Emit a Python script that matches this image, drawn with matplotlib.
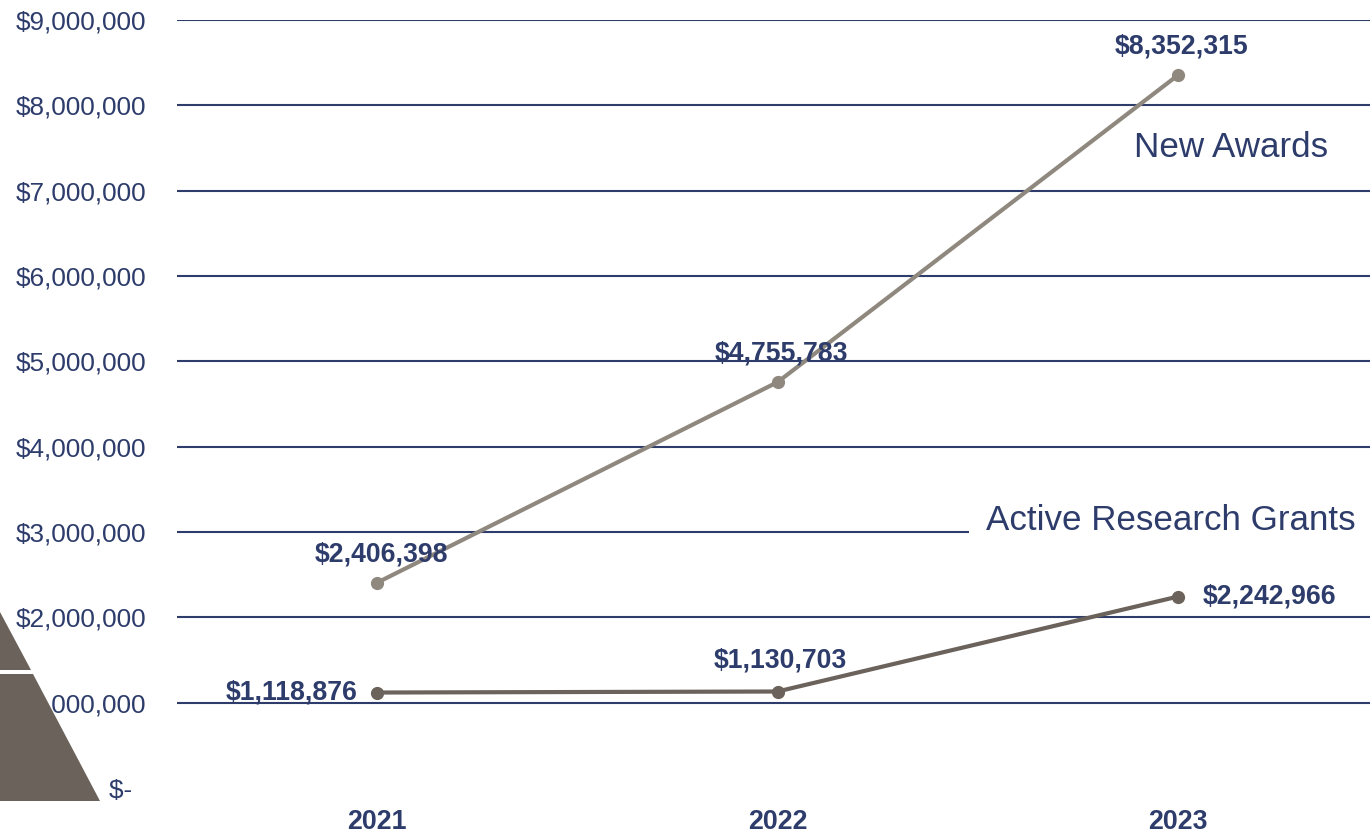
import matplotlib
matplotlib.use('Agg')
import matplotlib.pyplot as plt
from matplotlib.patches import Polygon
from matplotlib.ticker import FuncFormatter

plt.rcParams['font.family'] = ['Liberation Sans', 'DejaVu Sans']

# data
years = ['2021', '2022', '2023']
new_awards = [2406398, 4755783, 8352315]
active_grants = [1118876, 1130703, 2242966]
y_ticks = [0, 1000000, 2000000, 3000000, 4000000, 5000000, 6000000, 7000000, 8000000, 9000000]

navy = '#2d3c6b'
light_brown = '#8f887e'
dark_brown = '#6a625b'

W, H = 1370, 834
fig = plt.figure(figsize=(W / 100, H / 100), dpi=100)
ax = fig.add_axes([177 / W, 46 / H, 1201 / W, 768 / H])

x = list(range(len(years)))
ax.plot(x, new_awards, color=light_brown, lw=3, marker='o', ms=8.5, zorder=3)
ax.plot(x, active_grants, color=dark_brown, lw=3, marker='o', ms=8.5, zorder=3)

ax.set_xlim(-0.5, 2.5)
ax.set_ylim(0, 9000000)
ax.set_yticks(y_ticks)


def money(v, pos=None):
    if v == 0:
        return '$-  '
    return '${:,.0f}'.format(v)


ax.yaxis.set_major_formatter(FuncFormatter(money))
ax.set_xticks(x)
ax.set_xticklabels(years, fontsize=19.3, fontweight='bold', color=navy)
ax.tick_params(axis='y', length=0, pad=22, labelsize=18.8, labelcolor=navy)
ax.tick_params(axis='x', length=0, pad=15)

for s in ax.spines.values():
    s.set_visible(False)
for t in y_ticks[1:]:
    ax.axhline(t, color=navy, lw=1.5, zorder=1)

lbl = dict(fontsize=19.2, fontweight='bold', color=navy, zorder=5)
# labels above points
for i in range(3):
    ax.annotate(money(new_awards[i]), (x[i], new_awards[i]), xytext=(3, 20.5),
                textcoords='offset points', ha='center', va='center', **lbl)
ax.annotate(money(active_grants[0]), (x[0], active_grants[0]), xytext=(-14, 0),
            textcoords='offset points', ha='right', va='center', **lbl)
ax.annotate(money(active_grants[1]), (x[1], active_grants[1]), xytext=(2, 22),
            textcoords='offset points', ha='center', va='center', **lbl)
ax.annotate(money(active_grants[2]), (x[2], active_grants[2]), xytext=(18, 0),
            textcoords='offset points', ha='left', va='center', **lbl)

# series names
ax.text(2.133, 7510000, 'New Awards', fontsize=25.2, color=navy, ha='center', va='center', zorder=4)
ax.text(1.983, 3140000, 'Active Research Grants', fontsize=25.2, color=navy, ha='center', va='center',
        zorder=4, bbox=dict(boxstyle='square,pad=0.5', fc='white', ec='none'))

# decorative slide shape at bottom left
def fp(px, py):
    return (px / W, 1 - py / H)


upper = Polygon([fp(0, 612), fp(31, 670), fp(0, 670)], closed=True,
                transform=fig.transFigure, fc=dark_brown, ec='none', zorder=10)
lower = Polygon([fp(0, 674), fp(33, 674), fp(100, 801), fp(0, 801)], closed=True,
                transform=fig.transFigure, fc=dark_brown, ec='none', zorder=10)
fig.patches.extend([upper, lower])

fig.savefig('out.png', dpi=100)
